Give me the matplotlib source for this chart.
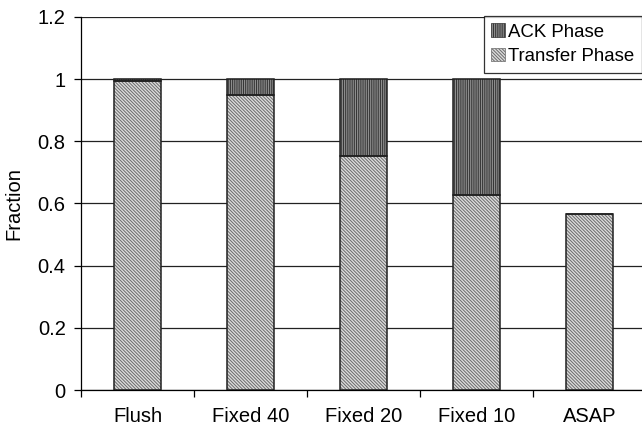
import matplotlib.pyplot as plt
import numpy as np
from matplotlib.patches import Patch

plt.rcParams['font.family'] = ['Liberation Sans', 'DejaVu Sans']
plt.rcParams['hatch.linewidth'] = 0.7

schemes = ["Flush", "Fixed 40", "Fixed 20", "Fixed 10", "ASAP"]
transfer = [0.993, 0.95, 0.753, 0.627, 0.565]
ack = [0.007, 0.05, 0.247, 0.373, 0.0]

x = np.arange(len(schemes))
w = 0.41
fs = 14.5

fig = plt.figure(figsize=(6.42, 4.36), dpi=100)
ax = fig.add_axes([81 / 642, 46 / 436, 565 / 642, 373 / 436])

# transfer phase: light diagonal hatch
tr_style = dict(facecolor="#dcdcdc", edgecolor="#6a6a6a", hatch="\\" * 10)
ax.bar(x, transfer, w, linewidth=0, zorder=2, **tr_style)
ax.bar(x, transfer, w, fill=False, edgecolor="#202020", linewidth=1.1, zorder=3)

# ack phase: dark vertical stripes
ack_style = dict(facecolor="#9a9a9a", edgecolor="#333333", hatch="|" * 9)
ax.bar(x, ack, w, bottom=transfer, linewidth=0, zorder=2, **ack_style)
ax.bar(x, ack, w, bottom=transfer, fill=False, edgecolor="#202020", linewidth=1.1, zorder=3)

ax.set_xlim(-0.5, len(schemes) - 0.5)
ax.set_ylim(0, 1.2)
ax.set_yticks(np.arange(0, 1.21, 0.2))
ax.set_yticklabels(["0", "0.2", "0.4", "0.6", "0.8", "1", "1.2"])
ax.set_xticks(x)
ax.set_xticklabels(schemes)
ax.set_xticks(np.arange(-0.5, len(schemes), 1), minor=True)
ax.tick_params(axis="x", which="major", length=0, pad=12, labelsize=fs)
ax.tick_params(axis="x", which="minor", length=5, direction="out", width=0.9)
ax.tick_params(axis="y", length=5, direction="out", width=0.9, labelsize=fs, pad=6)
ax.grid(axis="y", color="#222222", linewidth=0.9, zorder=1)
ax.set_axisbelow(True)
for s in ["top", "right"]:
    ax.spines[s].set_visible(False)
ax.spines["left"].set_linewidth(0.9)
ax.spines["bottom"].set_linewidth(0.9)
ax.set_ylabel("Fraction", fontsize=fs, labelpad=10)

handles = [
    Patch(label="ACK Phase", linewidth=0.5, **ack_style),
    Patch(label="Transfer Phase", linewidth=0.5, **tr_style),
]
leg = fig.legend(handles=handles, loc="upper left", bbox_to_anchor=(484 / 642, 420 / 436),
                 fontsize=13.4, frameon=True, fancybox=False, borderaxespad=0,
                 handlelength=0.75, handleheight=0.75, handletextpad=0.15,
                 borderpad=0.4, labelspacing=0.38)
leg.get_frame().set_edgecolor("black")
leg.get_frame().set_linewidth(0.9)

fig.savefig("out.png", dpi=100)
